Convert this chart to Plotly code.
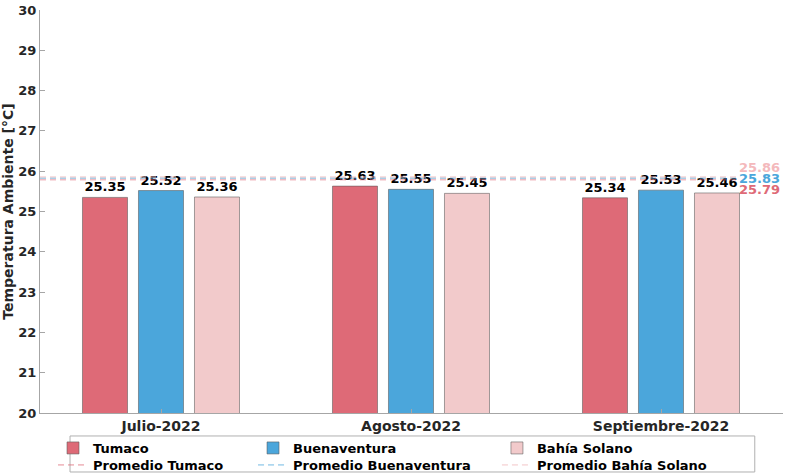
import plotly.graph_objects as go

meses = ["Julio-2022", "Agosto-2022", "Septiembre-2022"]
estaciones = ["Tumaco", "Buenaventura", "Bahía Solano"]
tumaco = [25.35, 25.63, 25.34]
buenaventura = [25.52, 25.55, 25.53]
bahia_solano = [25.36, 25.45, 25.46]
promedios = [25.79, 25.83, 25.86]
y_ticks = list(range(20, 31))

bar_colors = ["#DE6A77", "#4BA6DB", "#F2CACB"]
line_colors = ["rgba(222,106,119,0.45)", "rgba(75,166,219,0.45)", "rgba(242,190,192,0.5)"]
label_colors = ["#DE6A77", "#4BA6DB", "#F4B9BC"]
label_shift = [-10, 0, 9]
bar_legends = ["legend", "legend2", "legend3"]
line_legends = ["legend4", "legend5", "legend6"]
legend_x = [0.0175, 0.2867, 0.615]

FONT = "DejaVu Sans"
fig = go.Figure()
series = [tumaco, buenaventura, bahia_solano]
for i, (name, vals) in enumerate(zip(estaciones, series)):
    fig.add_trace(go.Bar(
        x=meses, y=vals, name=name,
        marker=dict(color=bar_colors[i], line=dict(color="rgba(90,90,90,0.7)", width=0.8)),
        text=[f"{v:.2f}" for v in vals], textposition="outside", cliponaxis=False,
        textfont=dict(family=FONT, size=13, color="black", weight="bold"),
        legend=bar_legends[i],
    ))
for i, (name, m) in enumerate(zip(estaciones, promedios)):
    fig.add_trace(go.Scatter(
        x=[0, 0.938], y=[m, m], mode="lines", xaxis="x2",
        name=f"Promedio {name}",
        line=dict(color=line_colors[i], width=1.8, dash="6px,4px"),
        legend=line_legends[i], hoverinfo="skip",
    ))
    fig.add_annotation(
        x=0.938, xref="paper", y=m, yref="y", text=f"{m:.2f}",
        xanchor="left", yanchor="middle", yshift=label_shift[i], showarrow=False,
        font=dict(family=FONT, size=13, color=label_colors[i], weight="bold"),
    )

leg_common = dict(orientation="v", yanchor="top", bgcolor="rgba(0,0,0,0)",
                  borderwidth=0, font=dict(family=FONT, size=13, color="black", weight="bold"),
                  tracegroupgap=0, xanchor="left")
legend_layout = {}
for i in range(3):
    legend_layout[bar_legends[i]] = dict(x=legend_x[i], y=-0.0496, **leg_common)
    legend_layout[line_legends[i]] = dict(x=legend_x[i], y=-0.0918, **leg_common)

fig.update_layout(
    width=792, height=474,
    margin=dict(l=40, r=9, t=10, b=61, autoexpand=False),
    paper_bgcolor="white", plot_bgcolor="white",
    barmode="group", bargap=0.328, bargroupgap=0.196,
    font=dict(family=FONT, size=13, color="#262626"),
    xaxis=dict(
        type="category", range=[-0.484, 2.488], automargin=False,
        showline=True, linecolor="#A6A6A6", linewidth=1,
        ticks="inside", ticklen=4, tickcolor="#A6A6A6",
        tickfont=dict(family=FONT, size=14, color="#262626", weight="bold"),
        showgrid=False, zeroline=False,
    ),
    xaxis2=dict(overlaying="x", range=[0, 1], visible=False),
    yaxis=dict(
        range=[20, 30], tickvals=y_ticks, showline=True, linecolor="#A6A6A6", linewidth=1,
        automargin=False,
        ticks="inside", ticklen=5, tickcolor="#A6A6A6",
        tickfont=dict(family=FONT, size=13, color="#262626", weight="bold"),
        showgrid=False, zeroline=False,
        title=dict(text="Temperatura Ambiente [°C]", standoff=4,
                   font=dict(family=FONT, size=14, color="#262626", weight="bold")),
    ),
    showlegend=True,
    **legend_layout,
)
fig.add_shape(type="rect", xref="paper", yref="paper",
              x0=0.0404, x1=0.962, y0=-0.1464, y1=-0.057,
              line=dict(color="#B0B0B0", width=1), fillcolor="rgba(0,0,0,0)")

fig.write_html("out.html", config={"displayModeBar": False},
               post_script="document.body.style.margin='0';")
